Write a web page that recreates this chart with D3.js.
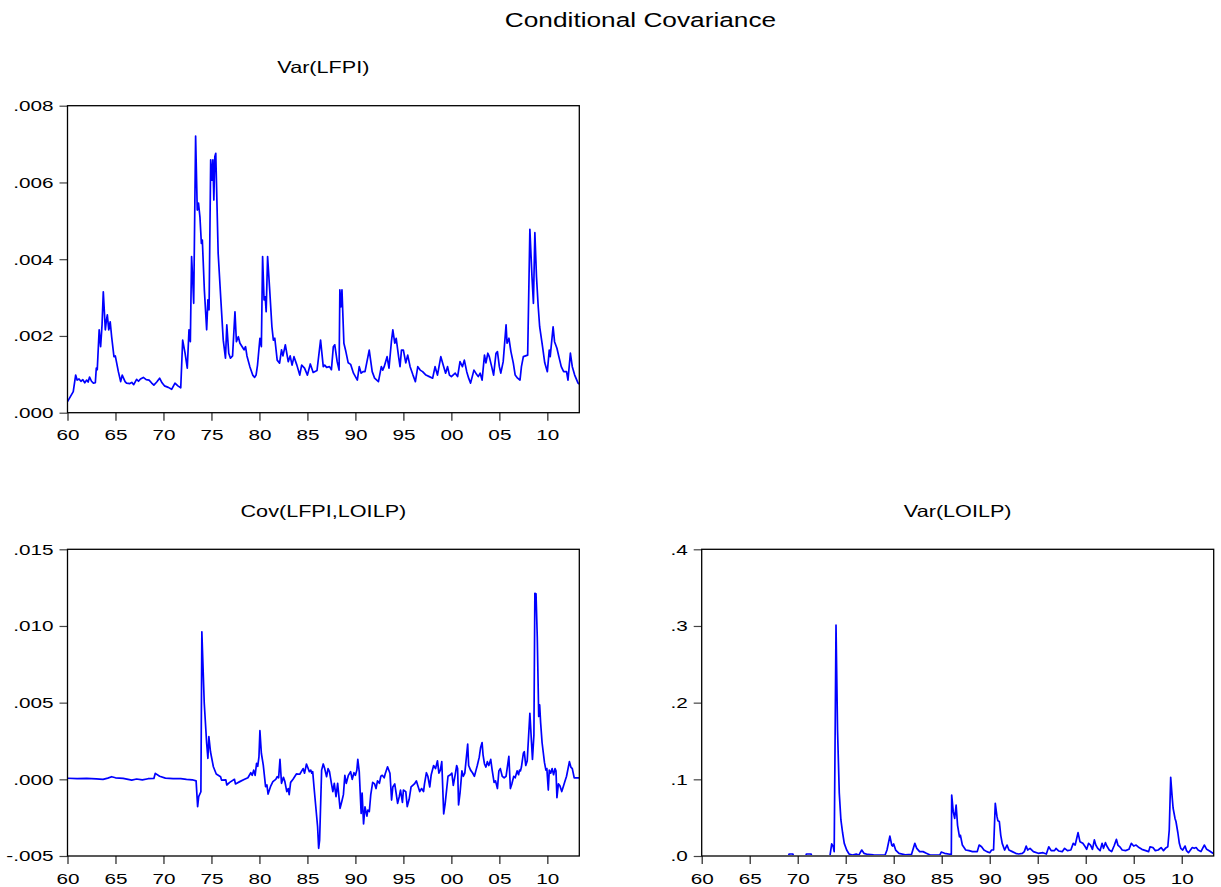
<!DOCTYPE html>
<html>
<head>
<meta charset="utf-8">
<script src="https://cdn.jsdelivr.net/npm/d3@7"></script>
<style>
  html, body { margin: 0; padding: 0; background: #ffffff; }
  svg { display: block; }
  text { font-family: "Liberation Sans", Arial, Helvetica, sans-serif; fill: #000; }
</style>
</head>
<body>
<svg id="chart" width="1221" height="887"></svg>
<script>
// ---------------- DATA ----------------
const chartTitle = "Conditional Covariance";
const panelTitles = ["Var(LFPI)", "Cov(LFPI,LOILP)", "Var(LOILP)"];

const xTickYears = [1960, 1965, 1970, 1975, 1980, 1985, 1990, 1995, 2000, 2005, 2010];
const xTickLabels = ["60", "65", "70", "75", "80", "85", "90", "95", "00", "05", "10"];
const xDomain = [1960, 2013.33];

const yTicks1 = [0, 0.002, 0.004, 0.006, 0.008];
const yTickLabels1 = [".000", ".002", ".004", ".006", ".008"];
const yTicks2 = [-0.005, 0, 0.005, 0.010, 0.015];
const yTickLabels2 = ["-.005", ".000", ".005", ".010", ".015"];
const yTicks3 = [0, 0.1, 0.2, 0.3, 0.4];
const yTickLabels3 = [".0", ".1", ".2", ".3", ".4"];

// Var(LFPI)
const varLfpiDates = [
 1960.0,1960.3,1960.6,1960.85,1961.0,1961.2,1961.4,1961.6,1961.8,1962.0,1962.15,1962.3,1962.5,1962.7,1962.9,
 1963.0,1963.1,1963.3,1963.45,1963.6,1963.73,1963.94,1964.05,1964.15,1964.3,1964.45,1964.6,1964.84,1964.98,
 1965.3,1965.54,1965.7,1966.0,1966.15,1966.5,1966.7,1966.9,1967.2,1967.4,1967.6,1967.9,1968.2,1968.5,1968.75,
 1969.0,1969.3,1969.6,1969.85,1970.1,1970.5,1970.85,1971.2,1971.5,1971.8,1972.0,1972.25,1972.48,1972.66,1972.8,
 1972.93,1973.05,1973.15,1973.35,1973.52,1973.65,1973.8,1973.95,1974.05,1974.26,1974.5,1974.63,1974.75,1974.92,
 1975.05,1975.15,1975.25,1975.35,1975.45,1975.7,1975.98,1976.23,1976.46,1976.6,1976.8,1976.98,1977.2,1977.45,
 1977.6,1977.8,1977.97,1978.2,1978.4,1978.55,1978.7,1979.0,1979.3,1979.5,1979.65,1979.8,1980.05,1980.2,1980.33,
 1980.48,1980.6,1980.7,1980.85,1981.05,1981.3,1981.45,1981.6,1981.85,1982.1,1982.3,1982.45,1982.7,1983.0,1983.2,
 1983.4,1983.6,1983.9,1984.2,1984.4,1984.7,1985.0,1985.3,1985.6,1986.0,1986.37,1986.65,1986.8,1987.0,1987.3,
 1987.5,1987.7,1987.85,1988.1,1988.3,1988.38,1988.5,1988.6,1988.8,1989.0,1989.25,1989.5,1989.8,1990.2,1990.4,
 1990.6,1990.8,1991.0,1991.44,1991.75,1992.0,1992.4,1992.7,1992.85,1993.0,1993.3,1993.5,1993.75,1993.9,1994.1,
 1994.25,1994.5,1994.65,1994.8,1995.0,1995.25,1995.45,1995.7,1996.0,1996.25,1996.5,1996.75,1997.0,1997.35,1997.7,
 1998.05,1998.3,1998.55,1998.9,1999.2,1999.4,1999.6,1999.8,2000.0,2000.4,2000.65,2000.9,2001.15,2001.35,2001.6,
 2001.8,2002.0,2002.35,2002.55,2002.8,2003.0,2003.2,2003.45,2003.6,2003.8,2003.95,2004.2,2004.4,2004.65,2004.8,
 2005.0,2005.15,2005.4,2005.7,2005.8,2006.0,2006.2,2006.45,2006.65,2006.9,2007.15,2007.3,2007.5,2007.95,2008.18,
 2008.4,2008.55,2008.7,2008.87,2009.05,2009.2,2009.5,2009.73,2010.0,2010.2,2010.3,2010.6,2010.75,2011.0,2011.2,
 2011.45,2011.7,2012.0,2012.15,2012.4,2012.6,2012.85,2013.2,2013.33
];
const varLfpiValues = [
 0.00029,0.00042,0.00055,0.00098,0.00085,0.00088,0.00082,0.00086,0.00078,0.00085,0.00080,0.00093,0.00082,0.00077,0.00078,
 0.00116,0.00112,0.00216,0.00172,0.00229,0.00315,0.00216,0.00240,0.00255,0.00216,0.00237,0.00198,0.00146,0.00148,
 0.00107,0.00081,0.00098,0.00081,0.00077,0.00076,0.00079,0.00073,0.00087,0.00082,0.00088,0.00092,0.00086,0.00085,0.00078,
 0.00072,0.00080,0.00090,0.00078,0.00070,0.00066,0.00061,0.00077,0.00070,0.00065,0.00189,0.00155,0.00116,0.00216,0.00185,
 0.00407,0.00345,0.00285,0.00721,0.00528,0.00546,0.00510,0.00441,0.00450,0.00320,0.00216,0.00294,0.00268,0.00659,
 0.00606,0.00659,0.00554,0.00667,0.00676,0.00415,0.00294,0.00189,0.00142,0.00229,0.00155,0.00142,0.00148,0.00263,
 0.00185,0.00198,0.00181,0.00172,0.00164,0.00172,0.00148,0.00120,0.00098,0.00092,0.00098,0.00124,0.00194,0.00172,0.00407,
 0.00294,0.00302,0.00263,0.00407,0.00328,0.00224,0.00189,0.00194,0.00137,0.00129,0.00164,0.00148,0.00177,0.00133,0.00148,
 0.00124,0.00146,0.00124,0.00098,0.00124,0.00116,0.00098,0.00127,0.00105,0.00110,0.00189,0.00120,0.00124,0.00118,0.00120,
 0.00112,0.00172,0.00177,0.00133,0.00111,0.00320,0.00276,0.00320,0.00181,0.00160,0.00130,0.00126,0.00103,0.00085,0.00120,
 0.00103,0.00107,0.00107,0.00163,0.00107,0.00090,0.00081,0.00120,0.00111,0.00120,0.00146,0.00116,0.00185,0.00216,0.00181,
 0.00194,0.00146,0.00120,0.00163,0.00163,0.00130,0.00150,0.00120,0.00098,0.00081,0.00120,0.00111,0.00107,0.00098,0.00094,
 0.00090,0.00120,0.00098,0.00146,0.00120,0.00103,0.00120,0.00098,0.00094,0.00103,0.00094,0.00133,0.00120,0.00137,0.00107,
 0.00090,0.00077,0.00111,0.00103,0.00094,0.00103,0.00085,0.00150,0.00130,0.00155,0.00146,0.00120,0.00098,0.00155,0.00159,
 0.00120,0.00103,0.00133,0.00229,0.00181,0.00194,0.00160,0.00130,0.00098,0.00090,0.00085,0.00120,0.00146,0.00150,0.00478,
 0.00354,0.00285,0.00469,0.00354,0.00276,0.00224,0.00172,0.00130,0.00107,0.00163,0.00146,0.00224,0.00185,0.00168,0.00146,
 0.00120,0.00107,0.00107,0.00085,0.00155,0.00120,0.00098,0.00077,0.00075
];

// Cov(LFPI,LOILP)
const covDates = [
 1960.0,1961.0,1962.0,1963.0,1963.7,1964.2,1964.6,1965.0,1965.8,1966.7,1967.2,1967.8,1968.4,1969.0,1969.15,1969.6,
 1970.2,1971.0,1971.8,1972.4,1973.0,1973.4,1973.56,1973.67,1973.9,1974.0,1974.25,1974.5,1974.63,1974.73,1974.9,
 1975.2,1975.5,1975.95,1976.05,1976.5,1976.6,1976.9,1977.4,1977.5,1977.95,1978.45,1978.8,1979.1,1979.25,1979.4,
 1979.55,1979.7,1979.82,1979.95,1980.05,1980.2,1980.4,1980.64,1980.78,1980.9,1981.15,1981.4,1981.7,1981.85,1982.0,
 1982.14,1982.3,1982.5,1982.65,1982.85,1983.0,1983.1,1983.25,1983.5,1983.85,1984.2,1984.55,1984.7,1984.9,1985.2,
 1985.35,1985.45,1985.55,1985.7,1986.06,1986.17,1986.27,1986.48,1986.65,1986.8,1987.0,1987.15,1987.3,1987.5,1987.65,
 1987.8,1987.98,1988.15,1988.4,1988.6,1988.75,1988.9,1989.05,1989.27,1989.5,1989.67,1989.85,1990.0,1990.15,1990.25,
 1990.4,1990.6,1990.7,1990.85,1991.0,1991.2,1991.3,1991.45,1991.6,1991.8,1992.0,1992.15,1992.3,1992.5,1992.65,1992.8,
 1993.0,1993.1,1993.35,1993.6,1993.77,1993.9,1994.1,1994.4,1994.58,1994.7,1994.9,1995.0,1995.25,1995.4,1995.6,1995.8,
 1996.15,1996.35,1996.5,1996.7,1996.9,1997.1,1997.2,1997.4,1997.55,1997.75,1997.9,1998.15,1998.35,1998.55,1998.7,
 1998.85,1999.0,1999.2,1999.35,1999.5,1999.65,1999.9,2000.05,2000.2,2000.4,2000.55,2000.65,2000.75,2000.9,2001.1,
 2001.25,2001.4,2001.7,2001.8,2002.0,2002.2,2002.4,2002.55,2002.7,2002.9,2003.05,2003.2,2003.3,2003.45,2003.6,2003.75,
 2003.9,2004.1,2004.25,2004.45,2004.6,2004.8,2004.95,2005.1,2005.3,2005.5,2005.7,2005.99,2006.15,2006.3,2006.5,
 2006.65,2006.85,2007.0,2007.1,2007.2,2007.3,2007.5,2007.6,2007.75,2007.9,2008.18,2008.35,2008.45,2008.6,2008.7,
 2008.82,2008.95,2009.1,2009.2,2009.3,2009.45,2009.7,2009.85,2009.95,2010.1,2010.2,2010.35,2010.5,2010.65,2010.8,
 2010.9,2011.0,2011.15,2011.3,2011.5,2011.65,2011.85,2012.0,2012.3,2012.45,2012.6,2012.8,2013.33
];
const covValues = [
 0.00007,0.00005,0.00006,0.00003,0.00000,0.00008,0.00017,0.00010,0.00006,-0.00005,0.00002,-0.00004,0.00004,0.00006,0.00039,0.00020,
 0.00008,0.00004,0.00005,0.00000,-0.00003,-0.00010,-0.00178,-0.00113,-0.00081,0.00962,0.00496,0.00235,0.00137,0.00278,0.00180,
 0.00082,0.00035,0.00017,-0.00005,-0.00003,-0.00037,-0.00020,0.00000,-0.00030,-0.00015,0.00000,0.00010,0.00043,0.00026,0.00060,
 0.00026,0.00104,0.00085,0.00147,0.00317,0.00170,0.00093,-0.00048,-0.00037,-0.00096,-0.00048,-0.00015,0.00000,0.00017,0.00010,
 0.00130,-0.00026,0.00013,-0.00015,-0.00080,-0.00060,-0.00100,-0.00020,0.00000,0.00035,0.00033,0.00070,0.00040,0.00100,0.00050,
 0.00060,0.00040,0.00050,-0.00060,-0.00309,-0.00450,-0.00396,0.00060,0.00100,0.00070,0.00017,0.00070,0.00050,-0.00026,-0.00080,
 -0.00026,-0.00113,-0.00026,-0.00189,-0.00140,-0.00100,0.00026,-0.00026,0.00026,0.00050,0.00000,0.00043,0.00026,0.00060,0.00130,
 0.00050,-0.00222,-0.00090,-0.00291,-0.00180,-0.00240,-0.00200,-0.00210,-0.00100,-0.00020,-0.00030,-0.00060,-0.00010,-0.00026,0.00020,0.00026,
 0.00010,0.00035,0.00082,0.00040,-0.00135,-0.00050,-0.00030,-0.00157,-0.00110,-0.00070,-0.00150,-0.00070,-0.00080,-0.00178,-0.00130,-0.00050,
 -0.00030,-0.00010,-0.00040,-0.00080,-0.00060,-0.00080,-0.00030,0.00043,0.00020,-0.00050,0.00030,0.00090,0.00070,0.00121,0.00040,
 0.00060,0.00115,-0.00226,-0.00160,-0.00070,0.00020,0.00030,0.00040,-0.00040,0.00030,0.00090,0.00070,-0.00167,-0.00090,0.00055,
 0.00020,0.00040,0.00230,0.00090,0.00060,0.00043,0.00020,0.00055,0.00090,0.00143,0.00208,0.00240,0.00160,0.00100,0.00080,0.00115,
 0.00090,0.00130,0.00060,-0.00020,-0.00010,-0.00060,0.00055,0.00070,0.00020,0.00010,0.00020,0.00150,-0.00060,-0.00030,0.00020,
 0.00010,0.00055,0.00030,0.00060,0.00055,0.00080,0.00170,0.00180,0.00090,0.00120,0.00430,0.00240,0.00130,0.00290,0.01213,
 0.01210,0.00930,0.00410,0.00485,0.00370,0.00240,0.00110,0.00060,0.00070,-0.00070,0.00060,0.00040,0.00070,0.00030,0.00070,
 0.00055,-0.00120,-0.00030,-0.00040,-0.00080,-0.00050,-0.00010,0.00020,0.00115,0.00080,0.00070,0.00010,0.00010
];

// Var(LOILP)
const varOilDates = [
 1960.0,1969.05,1969.1,1969.5,1969.55,1970.85,1970.9,1971.4,1971.45,1973.3,1973.37,1973.54,1973.7,1973.8,1973.99,
 1974.15,1974.33,1974.5,1974.68,1974.85,1975.1,1975.35,1975.7,1976.1,1976.35,1976.67,1976.9,1977.3,1977.9,1978.5,
 1979.1,1979.3,1979.6,1979.8,1979.9,1980.0,1980.2,1980.55,1981.2,1981.85,1982.2,1982.4,1982.7,1983.05,1983.4,1983.8,
 1984.8,1984.95,1985.3,1986.0,1986.04,1986.2,1986.35,1986.5,1986.65,1986.85,1986.95,1987.15,1987.5,1987.85,1988.2,
 1988.7,1988.9,1989.15,1989.4,1989.7,1990.0,1990.2,1990.4,1990.58,1990.75,1990.85,1991.0,1991.15,1991.3,1991.55,
 1991.8,1992.0,1992.35,1992.7,1993.0,1993.4,1993.6,1993.8,1993.95,1994.2,1994.55,1995.05,1995.55,1995.9,1996.15,
 1996.4,1996.75,1996.9,1997.2,1997.55,1997.8,1998.1,1998.45,1998.7,1998.9,1999.2,1999.4,1999.7,1999.95,2000.1,
 2000.3,2000.5,2000.7,2000.9,2001.05,2001.25,2001.5,2001.7,2001.85,2002.05,2002.2,2002.45,2002.7,2002.95,2003.2,
 2003.35,2003.55,2003.8,2004.15,2004.5,2004.75,2005.0,2005.25,2005.55,2005.85,2006.25,2006.55,2006.7,2007.0,2007.25,
 2007.55,2007.85,2008.1,2008.3,2008.55,2008.7,2008.85,2009.0,2009.1,2009.3,2009.4,2009.6,2009.75,2009.9,2010.1,
 2010.35,2010.5,2010.7,2011.1,2011.3,2011.5,2011.7,2012.0,2012.35,2012.6,2012.9,2013.25,2013.33
];
const varOilValues = [
 0,0,0.0026,0.0026,0,0,0.0026,0.0026,0,0,0.0010,0.0157,0.0122,0.0057,0.301,
 0.164,0.082,0.047,0.030,0.0165,0.0078,0.0026,0.0013,0.0026,0.0009,0.0078,0.0035,0.0020,0.0015,0.0012,
 0.0013,0.0078,0.026,0.014,0.013,0.0157,0.0078,0.0035,0.0015,0.0020,0.0165,0.010,0.0057,0.0057,0.0035,0.0013,
 0.0013,0.0052,0.0035,0.0020,0.0795,0.0578,0.0491,0.0665,0.040,0.025,0.027,0.0143,0.0078,0.0070,0.0057,
 0.0057,0.0143,0.012,0.0078,0.0057,0.0043,0.0078,0.0078,0.0687,0.052,0.046,0.045,0.027,0.0165,0.0078,
 0.0143,0.0078,0.0057,0.0035,0.0026,0.0035,0.0057,0.013,0.0078,0.010,0.0057,0.0035,0.0043,0.0026,0.012,
 0.0070,0.0070,0.010,0.0065,0.0057,0.010,0.0070,0.0078,0.0165,0.0143,0.0304,0.0187,0.0165,0.012,0.0087,
 0.0165,0.0143,0.0087,0.021,0.0143,0.010,0.0070,0.0165,0.010,0.0174,0.013,0.0078,0.0057,0.013,0.0217,
 0.0143,0.012,0.0078,0.0070,0.0087,0.0165,0.013,0.0143,0.011,0.0087,0.0070,0.0057,0.012,0.011,0.0070,
 0.0078,0.011,0.0070,0.010,0.012,0.0339,0.1026,0.0774,0.0626,0.049,0.045,0.030,0.0165,0.010,0.0078,
 0.013,0.0070,0.0043,0.011,0.010,0.011,0.0078,0.0057,0.0143,0.0087,0.0065,0.0035,0.0030
];

// ---------------- DRAWING ----------------
const svg = d3.select("#chart");
const TICK_K = 1.38, SUB_K = 1.31, TITLE_K = 1.28;

function stretch(sel, k) {
  sel.each(function () {
    const L = this.getComputedTextLength();
    this.setAttribute("textLength", (L * k).toFixed(2));
    this.setAttribute("lengthAdjust", "spacingAndGlyphs");
  });
}

svg.append("text")
  .attr("x", 640.5).attr("y", 27)
  .attr("text-anchor", "middle")
  .style("font-size", "20.5px")
  .text(chartTitle)
  .call(stretch, TITLE_K);

const panels = [
  { title: panelTitles[0], left: 67.5, right: 579.3, top: 105.7, bottom: 412.7,
    domain: [0, 0.008], ticks: yTicks1, labels: yTickLabels1, dates: varLfpiDates, values: varLfpiValues },
  { title: panelTitles[1], left: 67.5, right: 579.3, top: 549.3, bottom: 856,
    domain: [-0.005, 0.015], ticks: yTicks2, labels: yTickLabels2, dates: covDates, values: covValues },
  { title: panelTitles[2], left: 701.7, right: 1213.7, top: 549.3, bottom: 856,
    domain: [0, 0.4], ticks: yTicks3, labels: yTickLabels3, dates: varOilDates, values: varOilValues }
];

const defs = svg.append("defs");

panels.forEach((p, idx) => {
  const x = d3.scaleLinear().domain(xDomain).range([p.left, p.right]);
  const y = d3.scaleLinear().domain(p.domain).range([p.bottom, p.top]);
  const g = svg.append("g");

  // clip so series at the zero line stays hidden under the frame
  defs.append("clipPath").attr("id", "clip" + idx)
    .append("rect")
    .attr("x", p.left).attr("y", p.top)
    .attr("width", p.right - p.left).attr("height", p.bottom - p.top - 0.9);

  // subtitle
  g.append("text")
    .attr("x", (p.left + p.right) / 2).attr("y", p.top - 32.7)
    .attr("text-anchor", "middle")
    .style("font-size", "16.5px")
    .text(p.title)
    .call(stretch, SUB_K);

  // line
  const pts = p.dates.map((d, i) => [d, p.values[i]]);
  g.append("path")
    .datum(pts)
    .attr("clip-path", `url(#clip${idx})`)
    .attr("fill", "none")
    .attr("stroke", "#0000ff")
    .attr("stroke-width", 1.7)
    .attr("stroke-linejoin", "round")
    .attr("d", d3.line().x(d => x(d[0])).y(d => y(d[1])));

  // y axis
  const yAxis = g.append("g")
    .attr("transform", `translate(${p.left},0)`)
    .call(d3.axisLeft(y).tickValues(p.ticks)
      .tickFormat((d, i) => p.labels[i]).tickSize(8).tickPadding(6));
  yAxis.select(".domain").remove();
  yAxis.selectAll(".tick line").attr("stroke", "#444").attr("stroke-width", 1.2);
  yAxis.selectAll(".tick text").attr("fill", "#000").style("font-size", "15px")
    .style("font-family", "'Liberation Sans', Arial, sans-serif").call(stretch, TICK_K);

  // x axis
  const xAxis = g.append("g")
    .attr("transform", `translate(0,${p.bottom})`)
    .call(d3.axisBottom(x).tickValues(xTickYears)
      .tickFormat((d, i) => xTickLabels[i]).tickSize(8).tickPadding(9));
  xAxis.select(".domain").remove();
  xAxis.selectAll(".tick line").attr("stroke", "#222").attr("stroke-width", 1.2);
  xAxis.selectAll(".tick text").attr("fill", "#000").style("font-size", "15px")
    .style("font-family", "'Liberation Sans', Arial, sans-serif").call(stretch, TICK_K);

  // frame
  g.append("rect")
    .attr("x", p.left).attr("y", p.top)
    .attr("width", p.right - p.left).attr("height", p.bottom - p.top)
    .attr("fill", "none").attr("stroke", "#000").attr("stroke-width", 1.3);
});
</script>
</body>
</html>
